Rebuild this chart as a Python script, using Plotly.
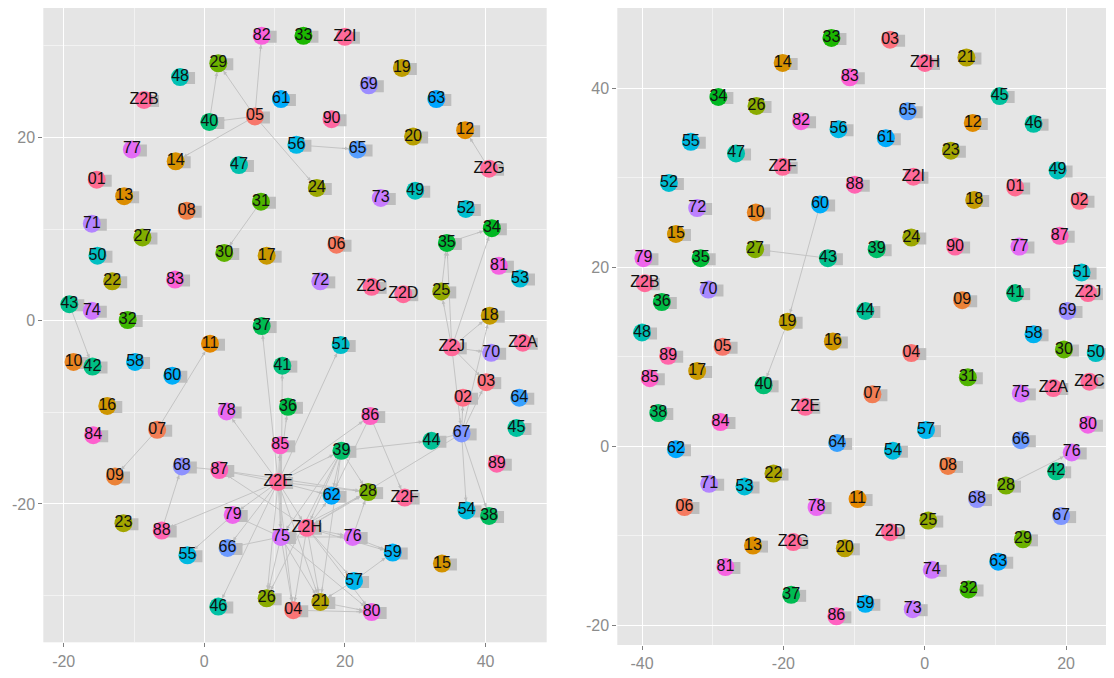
import math
import plotly.graph_objects as go

# ---------------- data: left network ----------------
L_labels = ["01","02","03","04","05","06","07","08","09","10",
            "11","12","13","14","15","16","17","18","19","20",
            "21","22","23","24","25","26","27","28","29","30",
            "31","32","33","34","35","36","37","38","39","40",
            "41","42","43","44","45","46","47","48","49","50",
            "51","52","53","54","55","56","57","58","59","60",
            "61","62","63","64","65","66","67","68","69","70",
            "71","72","73","74","75","76","77","78","79","80",
            "81","82","83","84","85","86","87","88","89","90",
            "Z2A","Z2B","Z2C","Z2D","Z2E","Z2F","Z2G","Z2H","Z2I","Z2J"]
L_x = [-15.3, 36.8, 40.1, 12.65, 7.2, 18.8, -6.7, -2.5, -12.7, -18.6,
       0.81, 37.1, -11.4, -4.07, 33.8, -13.8, 8.87, 40.6, 28.1, 29.7,
       16.5, -13.1, -11.5, 16.0, 33.7, 8.87, -8.8, 23.3, 1.99, 2.84,
       8.06, -10.9, 14.1, 40.9, 34.5, 11.9, 8.16, 40.5, 19.5, 0.71,
       11.1, -15.9, -19.2, 32.3, 44.4, 1.99, 4.93, -3.45, 30.0, -15.2,
       19.4, 37.2, 44.9, 37.3, -2.4, 13.1, 21.3, -9.85, 26.8, -4.55,
       10.9, 18.1, 33.0, 44.8, 21.8, 3.3, 36.6, -3.2, 23.4, 40.8,
       -16.0, 16.5, 25.1, -16.0, 10.9, 21.1, -10.3, 3.18, 4.04, 23.8,
       41.9, 8.16, -4.16, -15.8, 10.8, 23.6, 2.13, -6.06, 41.6, 18.1,
       45.3, -8.57, 23.8, 28.3, 10.5, 28.5, 40.5, 14.6, 20.0, 35.2]
L_y = [15.4, -8.4, -6.7, -31.6, 22.3, 8.3, -11.9, 12.0, -17.0, -4.5,
       -2.5, 20.8, 13.6, 17.4, -26.5, -9.3, 7.1, 0.55, 27.6, 20.1,
       -30.7, 4.3, -22.1, 14.5, 3.2, -30.3, 9.1, -18.7, 28.1, 7.4,
       13.0, 0.08, 31.1, 10.1, 8.5, -9.4, -0.58, -21.3, -14.2, 21.7,
       -4.9, -5.0, 1.8, -13.1, -11.7, -31.2, 17.0, 26.6, 14.2, 7.1,
       -2.65, 12.2, 4.6, -20.7, -25.6, 19.2, -28.4, -4.5, -25.3, -6.0,
       24.2, -19.1, 24.2, -8.4, 18.7, -24.8, -12.3, -15.9, 25.7, -3.5,
       10.6, 4.3, 13.4, 1.1, -23.6, -23.6, 18.7, -9.9, -21.2, -31.8,
       6.0, 31.1, 4.5, -12.5, -13.6, -10.4, -16.3, -22.9, -15.6, 22.0,
       -2.4, 24.1, 3.7, 2.9, -17.6, -19.3, 16.6, -22.6, 31.0, -2.9]
# directed edges: source -> target (arrow at target)
L_src = ["05","05","40","05","05","05","56","31","Z2G","43","07","07","87","88",
         "79","Z2J","Z2J","Z2J","Z2J","Z2J","Z2J","Z2J","35","25",
         "67","67","67","67","67","67","67",
         "Z2E","Z2E","Z2E","Z2E","Z2E","Z2E","Z2E","Z2E","Z2E","Z2E",
         "Z2E","Z2E","Z2E","Z2E","Z2E","Z2E","Z2E","Z2E","Z2E",
         "75","75",
         "39","39","39","39","39","39","39",
         "86","86",
         "Z2H","Z2H","Z2H","Z2H","Z2H","Z2H","Z2H","Z2H","Z2H",
         "75","75","75","75","75","75","75","75",
         "76","76","57","57","21","04","87"]
L_dst = ["82","29","29","40","14","24","65","30","12","42","11","09","68","68",
         "55","35","34","25","18","70","03","67","34","35",
         "18","03","02","54","38","44","Z2H",
         "87","85","79","75","Z2H","62","28","26","04","21",
         "46","51","78","88","86","39","66","37","36",
         "41","85",
         "44","75","Z2H","62","28","26","21",
         "Z2F","62",
         "76","57","21","04","80","62","28","87","59",
         "66","79","26","04","21","76","80","28",
         "59","28","59","21","80","80","28"]
L_xticks = [-20, 0, 20, 40]
L_xticklabels = ["-20", "0", "20", "40"]
L_yticks = [-20, 0, 20]
L_yticklabels = ["-20", "0", "20"]

# ---------------- data: right network ----------------
R_labels = L_labels
R_x = [12.8, 21.9, -4.9, -1.9, -28.6, -34.0, -7.4, 3.3, 5.3, -23.9,
       -9.5, 6.8, -24.3, -20.1, -35.2, -13.0, -32.2, 7.0, -19.4, -11.3,
       5.9, -21.4, 3.7, -1.9, 0.5, -23.8, -24.0, 11.5, 13.9, 19.7,
       6.1, 6.2, -13.2, -29.2, -31.7, -37.2, -18.9, -37.7, -6.8, -22.8,
       12.8, 18.6, -13.7, -8.4, 10.6, 15.4, -26.7, -40.0, 18.8, 24.2,
       22.2, -36.2, -25.5, -4.5, -33.1, -12.2, 0.18, 15.4, -8.4, -14.8,
       -5.5, -35.2, 10.4, -12.4, -2.4, 13.6, 19.3, 7.4, 20.2, -30.6,
       -30.5, -32.2, -1.7, 1.0, 13.6, 20.8, 13.4, -15.3, -39.8, 23.1,
       -28.2, -17.5, -10.6, -28.9, -38.9, -12.5, 19.1, -9.9, -36.3, 4.3,
       18.2, -39.6, 23.3, -4.9, -16.9, -20.1, -18.6, 0.04, -1.6, 23.1]
R_y = [28.9, 27.4, 45.4, 10.4, 11.1, -6.8, 5.8, -2.2, 16.3, 26.1,
       -5.9, 36.1, -11.1, 42.8, 23.7, 11.7, 8.4, 27.5, 13.9, -11.4,
       43.4, -3.05, 33.0, 23.3, -8.3, 38.0, 22.0, -4.4, -10.4, 10.8,
       7.7, -16.0, 45.6, 39.0, 21.0, 16.1, -16.6, 3.7, 22.0, 6.8,
       17.1, -2.8, 21.0, 15.1, 39.1, 36.0, 32.7, 12.7, 30.8, 10.4,
       19.4, 29.4, -4.5, -0.5, 34.0, 35.4, 1.8, 12.5, -17.6, 27.0,
       34.4, -0.34, -12.9, 0.37, 37.4, 0.67, -7.8, -5.9, 15.1, 17.5,
       -4.2, 26.6, -18.2, -13.8, 5.9, -0.7, 22.3, -6.8, 21.0, 2.4,
       -13.5, 36.3, 41.2, 2.7, 7.6, -19.0, 23.5, 29.2, 10.1, 22.3,
       6.5, 18.2, 7.2, -9.6, 4.4, 31.2, -10.7, 42.8, 30.1, 17.1]
R_src = ["60", "19", "43", "28"]
R_dst = ["19", "40", "27", "76"]
R_xticks = [-40, -20, 0, 20]
R_xticklabels = ["-40", "-20", "0", "20"]
R_yticks = [-20, 0, 20, 40]
R_yticklabels = ["-20", "0", "20", "40"]

# ---------------- styling helpers ----------------
def hcl_hex(h, c=100.0, l=65.0):
    wy, wu, wv = 1.0, 0.1978398, 0.4683363
    hr = math.radians(h)
    U, V = c * math.cos(hr), c * math.sin(hr)
    Y = wy * ((l + 16) / 116) ** 3
    u = U / (13 * l) + wu
    v = V / (13 * l) + wv
    X = 9.0 * Y * u / (4 * v)
    Z = -X / 3 - 5 * Y + 3 * Y / v
    def g(t):
        return 1.055 * t ** (1 / 2.4) - 0.055 if t > 0.00304 else 12.92 * t
    rgb = [g(3.240479 * X - 1.537150 * Y - 0.498535 * Z),
           g(-0.969256 * X + 1.875992 * Y + 0.041556 * Z),
           g(0.055648 * X - 0.204043 * Y + 1.057311 * Z)]
    return "#" + "".join("%02X" % int(round(max(0, min(1, t)) * 255)) for t in rgb)

def node_color(lab):
    n = 91
    idx = 90 if lab.startswith("Z2") else int(lab) - 1
    return hcl_hex(360.0 * idx / n)

W, H = 1114, 678
OFF = 8  # page body margin of the html page


def dom_x(p0, p1):
    return [max(0.0, (p0 - OFF) / W), min(1.0, (p1 - OFF) / W)]


def dom_y(top, bottom):
    return [max(0.0, (H - (bottom - OFF)) / H), min(1.0, (H - (top - OFF)) / H)]


panels = [
    dict(labels=L_labels, x=L_x, y=L_y, src=L_src, dst=L_dst,
         xr=[-22.9, 48.7], yr=[-35.1, 34.14],
         xd=dom_x(43.3, 546.7), yd=dom_y(8.0, 642.3),
         xt=L_xticks, xtt=L_xticklabels, yt=L_yticks, ytt=L_yticklabels),
    dict(labels=R_labels, x=R_x, y=R_y, src=R_src, dst=R_dst,
         xr=[-43.5, 26.5], yr=[-22.2, 48.94],
         xd=dom_x(617.3, 1112.0), yd=dom_y(8.0, 645.0),
         xt=R_xticks, xtt=R_xticklabels, yt=R_yticks, ytt=R_yticklabels),
]

fig = go.Figure()
layout = {}
annotations = []
EDGE = "#C4C4C4"
ARROW = "#BDBDBD"
SHADOW = "#BDBDBD"
for k, p in enumerate(panels, start=1):
    xa = "x" if k == 1 else "x%d" % k
    ya = "y" if k == 1 else "y%d" % k
    pos = {lab: (xx, yy) for lab, xx, yy in zip(p["labels"], p["x"], p["y"])}
    pxw = (p["xd"][1] - p["xd"][0]) * W
    pxh = (p["yd"][1] - p["yd"][0]) * H
    ux = (p["xr"][1] - p["xr"][0]) / pxw
    uy = (p["yr"][1] - p["yr"][0]) / pxh
    ex, ey = [], []
    for s, d in zip(p["src"], p["dst"]):
        ex += [pos[s][0], pos[d][0], None]
        ey += [pos[s][1], pos[d][1], None]
        vx = (pos[s][0] - pos[d][0]) / ux
        vy = -(pos[s][1] - pos[d][1]) / uy
        n = math.hypot(vx, vy) or 1.0
        annotations.append(dict(x=pos[d][0], y=pos[d][1], xref=xa, yref=ya,
                                ax=vx / n * 17, ay=vy / n * 17, axref="pixel", ayref="pixel",
                                text="", showarrow=True, arrowhead=2, arrowsize=0.75,
                                arrowwidth=1, arrowcolor=ARROW, standoff=9))
    fig.add_trace(go.Scatter(x=ex, y=ey, mode="lines", xaxis=xa, yaxis=ya,
                             line=dict(color=EDGE, width=1), hoverinfo="skip",
                             showlegend=False))
    sx = [v + 9 * ux for v in p["x"]]
    sy = [v - 1 * uy for v in p["y"]]
    fig.add_trace(go.Scatter(x=sx, y=sy, mode="markers", xaxis=xa, yaxis=ya,
                             marker=dict(symbol="square", size=12, color=SHADOW,
                                         line=dict(width=0)),
                             hoverinfo="skip", showlegend=False))
    fig.add_trace(go.Scatter(x=p["x"], y=p["y"], mode="markers+text", xaxis=xa, yaxis=ya,
                             text=p["labels"], textposition="middle center",
                             textfont=dict(family="Arial, Liberation Sans, sans-serif",
                                           size=16, color="#111111"),
                             marker=dict(size=18, color=[node_color(l) for l in p["labels"]],
                                         line=dict(width=0)),
                             hoverinfo="text", showlegend=False))
    axis_common = dict(showline=False, zeroline=False, showgrid=True,
                       gridcolor="#FFFFFF", gridwidth=1.3,
                       ticks="outside", ticklen=4, tickwidth=1, tickcolor="#7F7F7F",
                       tickfont=dict(family="Arial, Liberation Sans, sans-serif",
                                     size=16, color="#8C8C8C"),
                       automargin=False,
                       minor=dict(dtick=10, showgrid=True, gridcolor="#F2F2F2",
                                  gridwidth=0.6, ticks=""))
    layout["xaxis" if k == 1 else "xaxis%d" % k] = dict(
        axis_common, range=p["xr"], domain=p["xd"], tickvals=p["xt"],
        ticktext=p["xtt"], anchor=ya)
    layout["yaxis" if k == 1 else "yaxis%d" % k] = dict(
        axis_common, range=p["yr"], domain=p["yd"], tickvals=p["yt"],
        ticktext=p["ytt"], anchor=xa)

fig.update_layout(**layout)
fig.update_layout(width=W, height=H, margin=dict(l=0, r=0, t=0, b=0),
                  paper_bgcolor="white", plot_bgcolor="#E5E5E5",
                  showlegend=False, annotations=annotations)
fig.write_html("out.html")
